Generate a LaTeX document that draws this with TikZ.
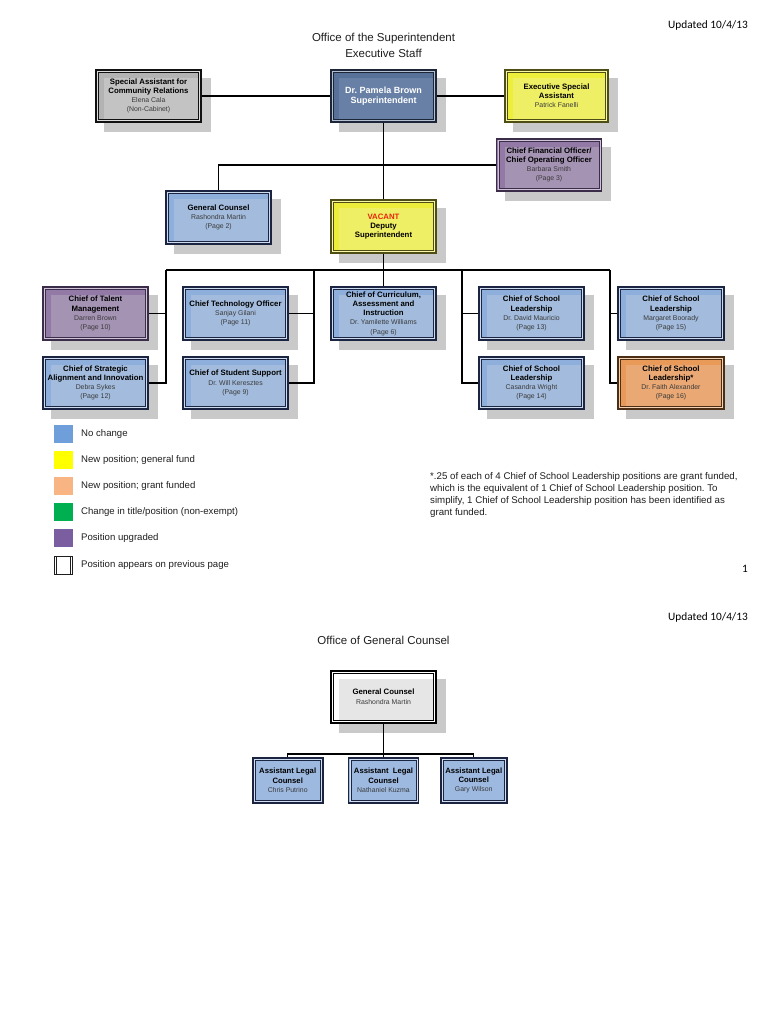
\documentclass[tikz,border=0pt]{standalone}
\usepackage{fontspec}
\setmainfont{Liberation Sans}
\newfontfamily\calib{Carlito}
\usetikzlibrary{backgrounds}
\frenchspacing
\definecolor{bluefill}{HTML}{8EAEDB}
\definecolor{bluepanel}{HTML}{A3BCDD}
\definecolor{blueline}{HTML}{1B2440}
\definecolor{purpfill}{HTML}{937AA6}
\definecolor{purppanel}{HTML}{A593B4}
\definecolor{purpline}{HTML}{3B2D4A}
\definecolor{grayfill}{HTML}{B3B3B3}
\definecolor{graypanel}{HTML}{C3C3C3}
\definecolor{grayline}{HTML}{111111}
\definecolor{supfill}{HTML}{587198}
\definecolor{suppanel}{HTML}{6880A6}
\definecolor{supline}{HTML}{1C2638}
\definecolor{yelfill}{HTML}{EDED3C}
\definecolor{yelpanel}{HTML}{EFEF66}
\definecolor{yelline}{HTML}{4D4D14}
\definecolor{orfill}{HTML}{E99A58}
\definecolor{orpanel}{HTML}{E9A874}
\definecolor{orline}{HTML}{4A2E16}
\definecolor{whpanel}{HTML}{E6E6E6}
\definecolor{smallfill}{HTML}{9DB9E0}
\definecolor{shadowgray}{HTML}{C9C9C9}
\definecolor{namegray}{HTML}{3A3A3A}
\definecolor{txtdark}{HTML}{1E1E1E}
\definecolor{vacred}{HTML}{E8240C}
\definecolor{legblue}{HTML}{6F9FDB}
\definecolor{legyellow}{HTML}{FFFF00}
\definecolor{legorange}{HTML}{F8B483}
\definecolor{leggreen}{HTML}{00B050}
\definecolor{legpurple}{HTML}{7A5EA0}
\newcommand{\nmline}[1]{{\fontsize{6.9}{9.2}\selectfont\mdseries\color{namegray}#1}}
\tikzset{
  orgbox/.style n args={3}{rectangle, minimum width=105pt, minimum height=52pt,
    inner sep=0pt, line width=1.9pt, align=center, fill=#1, draw=#3,
    font=\fontsize{7.8}{9.2}\selectfont\bfseries,
    path picture={
      \fill[#2] ([shift={(8pt,-8pt)}]path picture bounding box.north west)
        rectangle (path picture bounding box.south east);
      \draw[white!55!#1, line width=1.2pt] ([shift={(1.6pt,-1.6pt)}]path picture bounding box.north west)
        rectangle ([shift={(-1.6pt,1.6pt)}]path picture bounding box.south east);
      \draw[#3, line width=0.7pt] ([shift={(2.6pt,-2.6pt)}]path picture bounding box.north west)
        rectangle ([shift={(-2.6pt,2.6pt)}]path picture bounding box.south east);}},
  bluebox/.style={orgbox={bluefill}{bluepanel}{blueline}},
  purpbox/.style={orgbox={purpfill}{purppanel}{purpline}},
  graybox/.style={orgbox={grayfill}{graypanel}{grayline}},
  supbox/.style={orgbox={supfill}{suppanel}{supline}},
  yelbox/.style={orgbox={yelfill}{yelpanel}{yelline}},
  orbox/.style={orgbox={orfill}{orpanel}{orline}},
  whbox/.style={orgbox={white}{whpanel}{black}},
  smallbox/.style={rectangle, minimum width=70pt, minimum height=44.5pt,
    inner sep=0pt, line width=1.9pt, align=center, fill=smallfill, draw=blueline,
    font=\fontsize{7.7}{9.2}\selectfont\bfseries,
    path picture={
      \draw[white!55!smallfill, line width=1.2pt] ([shift={(1.6pt,-1.6pt)}]path picture bounding box.north west)
        rectangle ([shift={(-1.6pt,1.6pt)}]path picture bounding box.south east);
      \draw[blueline, line width=0.7pt] ([shift={(2.6pt,-2.6pt)}]path picture bounding box.north west)
        rectangle ([shift={(-2.6pt,2.6pt)}]path picture bounding box.south east);}},
  conn/.style={line width=1.1pt, draw=black},
  legsq/.style={rectangle, minimum width=18.4pt, minimum height=17.5pt, inner sep=0pt},
  legtxt/.style={anchor=west, inner sep=0pt, text=txtdark, font=\fontsize{9.6}{11.8}\selectfont},
  ttl/.style={inner sep=0pt, text=txtdark, font=\fontsize{11.5}{14}\selectfont},
  upd/.style={anchor=east, inner sep=0pt, text=black, font=\calib\fontsize{11.3}{13}\selectfont},
}
\begin{document}
\begin{tikzpicture}[x=1pt,y=-1pt]
\useasboundingbox (0,0) rectangle (768,1024);

% ---------- page 1 ----------
\node[upd] (upd1) at (748,25) {Updated 10/4/13};
\node[ttl] (title1) at (383.5,39) {Office of the Superintendent};
\node[ttl] (title1b) at (383.5,53) {Executive Staff};

\node[graybox] (spec) at (148.5,96) {Special Assistant for\\Community Relations\\\nmline{Elena Cala}\\\nmline{(Non-Cabinet)}};
\node[supbox, text=white, font=\fontsize{9}{10}\selectfont\bfseries] (sup) at (383.5,96) {Dr. Pamela Brown\\Superintendent};
\node[yelbox, minimum width=103pt] (exec) at (556.5,96) {Executive Special\\Assistant\\\nmline{Patrick Fanelli}};
\node[purpbox, minimum height=51.5pt] (cfo) at (549,165) {Chief Financial Officer/\\Chief Operating Officer\\\nmline{Barbara Smith}\\\nmline{(Page 3)}};
\node[bluebox, minimum height=53pt] (gc) at (218.5,217.5) {General Counsel\\\nmline{Rashondra Martin}\\\nmline{(Page 2)}};
\node[yelbox, minimum height=53pt] (dep) at (383.5,226.5) {\textcolor{vacred}{VACANT}\\Deputy\\Superintendent};

\node[purpbox, minimum height=53pt] (tal) at (95.5,313.5) {Chief of Talent\\Management\\\nmline{Darren Brown}\\\nmline{(Page 10)}};
\node[bluebox, minimum height=53pt] (tec) at (235.5,313.5) {Chief Technology Officer\\\nmline{Sanjay Gilani}\\\nmline{(Page 11)}};
\node[bluebox, minimum height=53pt, font=\fontsize{7.8}{9.3}\selectfont\bfseries] (cur) at (383.5,313.5) {Chief of Curriculum,\\Assessment and\\Instruction\\\nmline{Dr. Yamilette Williams}\\\nmline{(Page 6)}};
\node[bluebox, minimum height=53pt] (s13) at (531.5,313.5) {Chief of School\\Leadership\\\nmline{Dr. David Mauricio}\\\nmline{(Page 13)}};
\node[bluebox, minimum height=53pt, minimum width=106pt] (s15) at (671,313.5) {Chief of School\\Leadership\\\nmline{Margaret Boorady}\\\nmline{(Page 15)}};

\node[bluebox] (str) at (95.5,383) {Chief of Strategic\\Alignment and Innovation\\\nmline{Debra Sykes}\\\nmline{(Page 12)}};
\node[bluebox] (stu) at (235.5,383) {Chief of Student Support\\\nmline{Dr. Will Keresztes}\\\nmline{(Page 9)}};
\node[bluebox] (s14) at (531.5,383) {Chief of School\\Leadership\\\nmline{Casandra Wright}\\\nmline{(Page 14)}};
\node[orbox, minimum width=106pt] (s16) at (671,383) {Chief of School\\Leadership*\\\nmline{Dr. Faith Alexander}\\\nmline{(Page 16)}};

% connectors page 1
\draw[conn] (spec.east) -- (sup.west);
\draw[conn] (sup.east) -- (exec.west);
\draw[conn] (sup.south) -- (dep.north);
\draw[conn] (gc.north) |- (cfo.west);
\draw[conn] (dep.south) -- (cur.north);
\coordinate (j1) at (166,270);
\coordinate (j2) at (314,270);
\coordinate (j4) at (462,270);
\coordinate (j5) at (610,270);
\draw[conn] (j1) -- (j5);
\draw[conn] (j1) |- (tal.east);
\draw[conn] (j1) |- (str.east);
\draw[conn] (j2) |- (tec.east);
\draw[conn] (j2) |- (stu.east);
\draw[conn] (j4) |- (s13.west);
\draw[conn] (j4) |- (s14.west);
\draw[conn] (j5) |- (s15.west);
\draw[conn] (j5) |- (s16.west);

% legend
\node[legsq, fill=legblue] (k1) at (63.4,434) {};
\node[legtxt] (t1) at (81,434) {No change};
\node[legsq, fill=legyellow] (k2) at (63.4,460) {};
\node[legtxt] (t2) at (81,460) {New position; general fund};
\node[legsq, fill=legorange] (k3) at (63.4,486) {};
\node[legtxt] (t3) at (81,486) {New position; grant funded};
\node[legsq, fill=leggreen] (k4) at (63.4,512) {};
\node[legtxt] (t4) at (81,512) {Change in title/position (non-exempt)};
\node[legsq, fill=legpurple] (k5) at (63.4,538) {};
\node[legtxt] (t5) at (81,538) {Position upgraded};
\node[legsq, fill=white, draw=txtdark, line width=0.9pt,
  path picture={\draw[txtdark, line width=0.7pt]
    ([shift={(2.6pt,0pt)}]path picture bounding box.north west) -- ([shift={(2.6pt,0pt)}]path picture bounding box.south west)
    ([shift={(-2.6pt,0pt)}]path picture bounding box.north east) -- ([shift={(-2.6pt,0pt)}]path picture bounding box.south east);}]
  (k6) at (63.4,565.5) {};
\node[legtxt] (t6) at (81,565.5) {Position appears on previous page};

\node[anchor=north west, inner sep=0pt, align=left, text=txtdark, font=\fontsize{9.7}{11.8}\selectfont] (note) at (430,472.5)
  {*.25 of each of 4 Chief of School Leadership positions are grant funded,\\which is the equivalent of 1 Chief of School Leadership position. To\\simplify, 1 Chief of School Leadership position has been identified as\\grant funded.};
\node[upd] (pg1) at (748,569) {1};

% ---------- page 2 ----------
\node[upd] (upd2) at (748,617) {Updated 10/4/13};
\node[ttl] (title2) at (383.5,640) {Office of General Counsel};
\node[whbox, font=\fontsize{7.8}{10}\selectfont\bfseries] (gc2) at (383.5,697) {General Counsel\\\nmline{Rashondra Martin}};
\node[smallbox] (al1) at (287.7,780.4) {Assistant Legal\\Counsel\\\nmline{Chris Putrino}};
\node[smallbox] (al2) at (383.5,780.4) {Assistant~ Legal\\Counsel\\\nmline{Nathaniel Kuzma}};
\node[smallbox, minimum width=66pt] (al3) at (473.7,780.4) {Assistant Legal\\Counsel\\\nmline{Gary Wilson}};
\coordinate (j6) at (383.5,754);
\draw[conn] (gc2.south) -- (al2.north);
\draw[conn] (al1.north) |- (j6) -| (al3.north);

% shadows
\begin{pgfonlayer}{background}
\foreach \n in {spec,sup,exec,cfo,gc,dep,tal,tec,cur,s13,s15,str,stu,s14,s16,gc2}
  \fill[shadowgray] ([shift={(9pt,-9pt)}]\n.north west) rectangle ([shift={(9pt,-9pt)}]\n.south east);
\end{pgfonlayer}
\end{tikzpicture}
\end{document}
